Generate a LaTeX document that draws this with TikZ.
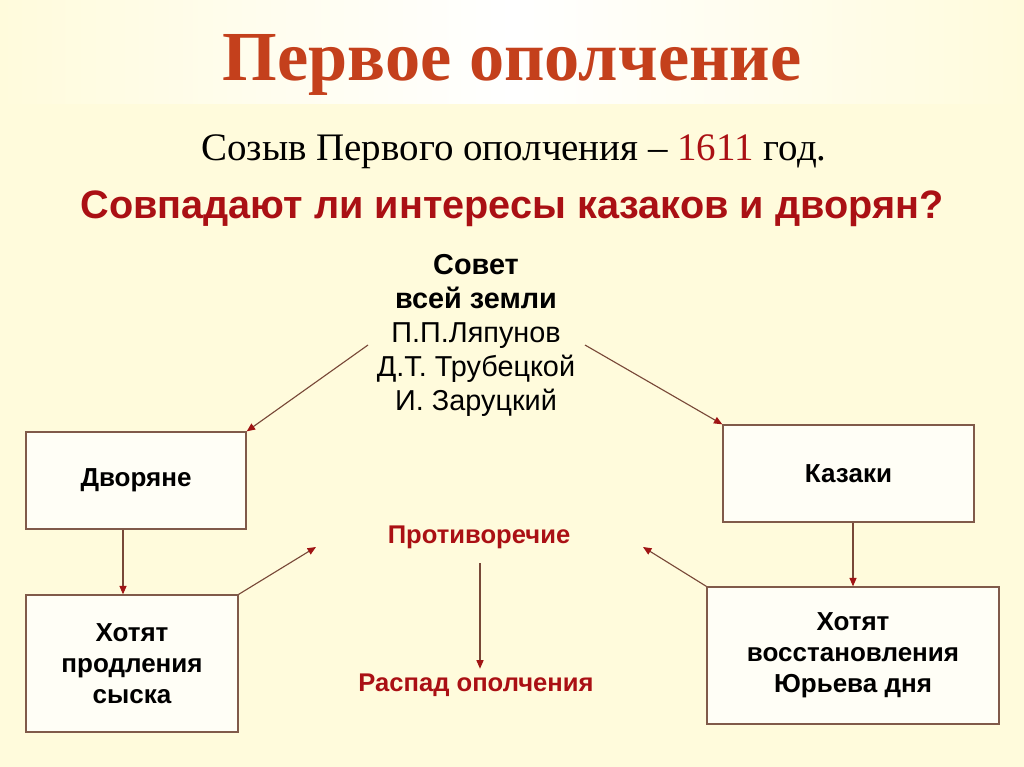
\documentclass[tikz,border=0pt]{standalone}
\usepackage{fontspec}
\setmainfont{Liberation Serif}
\setsansfont{Liberation Sans}
\usetikzlibrary{arrows.meta,positioning}

\definecolor{cream}{RGB}{255,251,220}
\definecolor{titlered}{RGB}{196,64,28}
\definecolor{darkred}{RGB}{170,16,20}
\definecolor{boxline}{RGB}{128,90,74}
\definecolor{arline}{RGB}{120,72,56}
\definecolor{tipred}{RGB}{160,20,20}

\begin{document}
\begin{tikzpicture}[
  x=0.025cm, y=-0.025cm,
  box/.style={draw=boxline, line width=0.9pt, fill=white!75!cream, align=center,
    font=\sffamily\bfseries\fontsize{18.5}{22}\selectfont, inner sep=2pt},
  note/.style={align=center, text=darkred,
    font=\sffamily\bfseries\fontsize{18.2}{22}\selectfont},
  ar/.style={draw=arline, line width=0.8pt,
    -{Triangle[length=6pt, width=5pt, color=tipred, fill=tipred]}}
]
\fill[cream] (0,0) rectangle (1024,767);
\shade[left color=cream, right color=cream, middle color=white] (0,0) rectangle (1024,104);
\useasboundingbox (0,0) rectangle (1024,767);

\node[text=titlered, font=\rmfamily\bfseries\fontsize{50}{60}\selectfont] (title) at (512,65) {Первое ополчение};
\node[font=\rmfamily\fontsize{27.7}{32}\selectfont] (convoc) at (514,152)
  {Созыв Первого ополчения -- \textcolor{darkred}{1611} год.};
\node[text=darkred, font=\sffamily\bfseries\fontsize{28.2}{32}\selectfont] (quest) at (512,209)
  {Совпадают ли интересы казаков и дворян?};

\node[align=center, font=\sffamily\fontsize{20.5}{24.2}\selectfont] (council) at (476,335)
  {\textbf{Совет}\\\textbf{всей земли}\\П.П.Ляпунов\\Д.Т. Трубецкой\\И. Заруцкий};

\node[box, minimum width=5.5cm, minimum height=2.425cm] (dvor) at (136,480.5) {Дворяне};
\node[box, minimum width=5.3cm, minimum height=3.425cm] (dvorwant) at (132,663.5)
  {Хотят\\продления\\сыска};
\node[box, minimum width=6.275cm, minimum height=2.425cm] (kaz) at (848.5,473.5) {Казаки};
\node[box, minimum width=7.3cm, minimum height=3.425cm] (kazwant) at (853,655.5)
  {Хотят\\восстановления\\Юрьева дня};

\node[note] (contra) at (479,537) {Противоречие};
\node[note] (collapse) at (476,685) {Распад ополчения};

\coordinate (cwest) at (368,345);
\coordinate (ceast) at (585,345);
\coordinate (lmeet) at (316,547);
\coordinate (rmeet) at (643,547);
\coordinate (axis) at (480,0);

\draw[ar] (cwest) -- (dvor.north east);
\draw[ar] (ceast) -- (kaz.north west);
\draw[ar] ([xshift=-0.325cm]dvor.south) -- ([xshift=-0.325cm]dvor.south |- dvorwant.north);
\draw[ar] (kaz.south -| kazwant.north) -- (kazwant.north);
\draw[ar] (dvorwant.north east) -- (lmeet);
\draw[ar] (kazwant.north west) -- (rmeet);
\draw[ar, shorten <=0.25cm] (contra.south -| axis) -- (collapse.north -| axis);
\end{tikzpicture}
\end{document}
